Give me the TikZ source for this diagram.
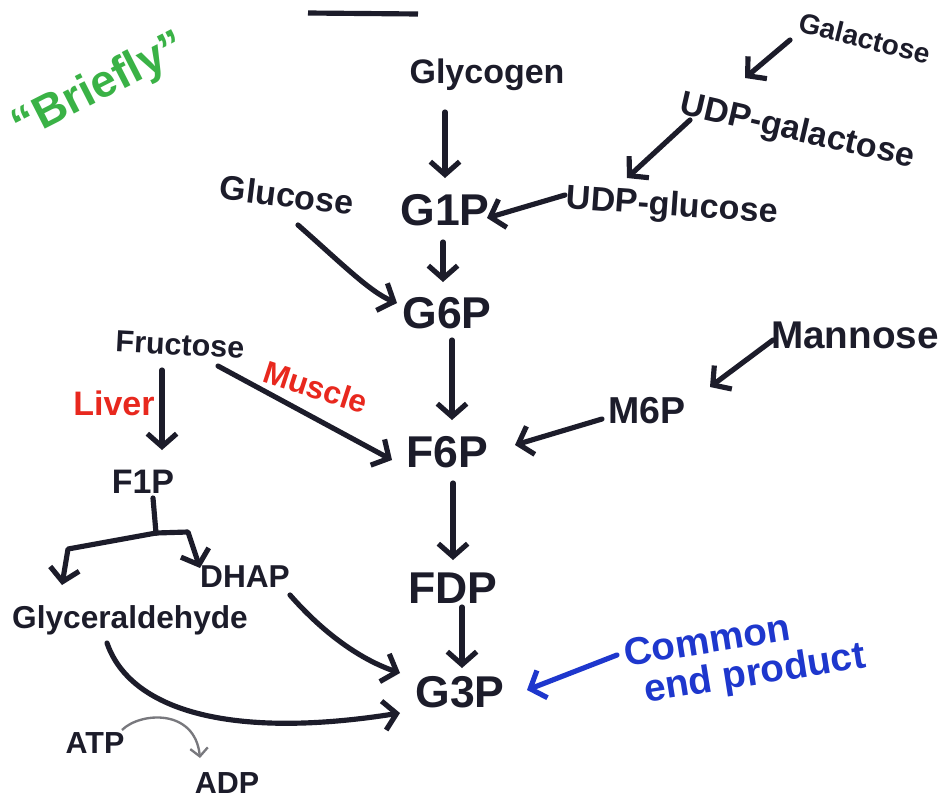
\documentclass[tikz,border=0pt]{standalone}
\usepackage{fontspec}
\setmainfont{Liberation Sans}
\usetikzlibrary{arrows.meta}
\definecolor{ink}{RGB}{28,28,42}
\definecolor{pgreen}{RGB}{58,178,70}
\definecolor{pred}{RGB}{232,40,30}
\definecolor{pblue}{RGB}{30,55,205}
\definecolor{pgray}{RGB}{120,120,125}
\tikzset{
  lbl/.style={font=\bfseries\fontsize{29}{31}\selectfont, inner sep=1pt, text=ink},
  big/.style={font=\bfseries\fontsize{38}{40}\selectfont, inner sep=1pt, text=ink},
  arr/.style={draw=ink, line width=4.4pt, line cap=round, line join=round,
              -{Straight Barb[length=11pt,width=25pt]}},
  plain/.style={draw=ink, line width=4.4pt, line cap=round, line join=round},
}
\begin{document}
\begin{tikzpicture}[x=0.03cm,y=-0.03cm]
\useasboundingbox[fill=white] (0,0) rectangle (942,805);

% title underline (title cut off)
\draw[ink, line width=4.4pt] (308,13) -- (418,14);

% notes
\node[font=\bfseries\fontsize{39}{41}\selectfont, text=pgreen, rotate=27] (briefly) at (100,88) {“Briefly”};

% nodes
\node[lbl] (glycogen) at (487,75) {Glycogen};
\node[lbl, font=\bfseries\fontsize{24}{26}\selectfont, rotate=-14] (galac) at (865,38) {Galactose};
\node[lbl, rotate=-13] (udpgal) at (797,132) {UDP-galactose};
\node[lbl, rotate=-4] (udpglc) at (672,207) {UDP-glucose};
\node[big] (g1p) at (445,210) {G1P};
\node[lbl, rotate=-7] (glucose) at (287,195) {Glucose};
\node[big] (g6p) at (447,313) {G6P};
\node[lbl, font=\bfseries\fontsize{26}{28}\selectfont, rotate=-3] (fructose) at (180,345) {Fructose};
\node[lbl, font=\bfseries\fontsize{33}{35}\selectfont] (mannose) at (855,335) {Mannose};
\node[lbl, font=\bfseries\fontsize{32}{34}\selectfont] (m6p) at (647,411) {M6P};
\node[big] (f6p) at (447,452) {F6P};
\node[lbl] (f1p) at (143,482) {F1P};
\node[lbl, font=\bfseries\fontsize{27}{29}\selectfont] (dhap) at (245,577) {DHAP};
\node[lbl, font=\bfseries\fontsize{27}{29}\selectfont] (glyc) at (130,620) {Glyceraldehyde};
\node[big] (fdp) at (453,588) {FDP};
\node[big] (g3p) at (460,692) {G3P};
\node[lbl, font=\bfseries\fontsize{26}{28}\selectfont] (atp) at (95,743) {ATP};
\node[lbl, font=\bfseries\fontsize{26}{28}\selectfont] (adp) at (227,783) {ADP};

% red tissue labels
\node[font=\bfseries\fontsize{29}{31}\selectfont, text=pred, inner sep=0pt] (liver) at (114,403) {Liver};
\node[font=\bfseries\fontsize{27}{29}\selectfont, text=pred, inner sep=0pt, rotate=-18] (muscle) at (316,387) {Muscle};

% blue note
\node[font=\bfseries\fontsize{33}{35}\selectfont, text=pblue, rotate=9, inner sep=0pt] (common) at (707,640) {Common};
\node[font=\bfseries\fontsize{33}{35}\selectfont, text=pblue, rotate=9, inner sep=0pt] (endp) at (755,675) {end product};

% connectors
\draw[arr] ([shift={(-75,2)}]galac.center) -- ([shift={(-52,-54)}]udpgal.center);
\draw[arr] ([shift={(-107,-12)}]udpgal.center) -- ([shift={(-45,-29)}]udpglc.center);
\draw[arr] ([shift={(-107,-12)}]udpglc.center) -- ([shift={(42,8)}]g1p.center);
\draw[arr] ([shift={(-42,37)}]glycogen.center) -- ([shift={(0,-32)}]g1p.center);
\draw[arr] ([shift={(-2,32)}]g1p.center) -- ([shift={(-4,-31)}]g6p.center);
\draw[arr] ([shift={(11,30)}]glucose.center) .. controls (340,262) and (370,292) .. ([shift={(-50,-10)}]g6p.center);
\draw[arr] ([shift={(5,27)}]g6p.center) -- ([shift={(5,-32)}]f6p.center);
\draw[arr] ([shift={(-82,5)}]mannose.center) -- ([shift={(63,-24)}]m6p.center);
\draw[arr] ([shift={(-45,8)}]m6p.center) -- ([shift={(68,-7)}]f6p.center);
\draw[arr] ([shift={(38,21)}]fructose.center) -- ([shift={(-55,8)}]f6p.center);
\draw[arr] ([shift={(-18,25)}]fructose.center) -- ([shift={(19,-32)}]f1p.center);
\draw[arr] ([shift={(6,31)}]f6p.center) -- ([shift={(0,-28)}]fdp.center);
\draw[arr] ([shift={(9,19)}]fdp.center) -- ([shift={(2,-24)}]g3p.center);

\coordinate (br) at (156,533);
\draw[plain] ([shift={(10,16)}]f1p.center) -- (br);
\draw[arr] (br) -- (68,549) -- ([shift={(-68,-35)}]glyc.center);
\draw[arr] (br) -- (188,532) -- ([shift={(-45,-9)}]dhap.center);

\draw[arr] ([shift={(45,18)}]dhap.center) .. controls (325,635) and (362,660) .. ([shift={(-60,-19)}]g3p.center);
\draw[arr] ([shift={(-23,23)}]glyc.center) .. controls (130,710) and (230,740) .. ([shift={(-60,21)}]g3p.center);

\draw[pgray, line width=2pt, -{Straight Barb[length=7pt,width=15pt]}]
  ([shift={(27,-13)}]atp.center) .. controls (140,712) and (195,708) .. ([shift={(-27,-25)}]adp.center);

\draw[draw=pblue, line width=4.4pt, line cap=round, -{Straight Barb[length=11pt,width=25pt]}]
  ([shift={(-90,15)}]common.center) -- ([shift={(67,-2)}]g3p.center);
\end{tikzpicture}
\end{document}
